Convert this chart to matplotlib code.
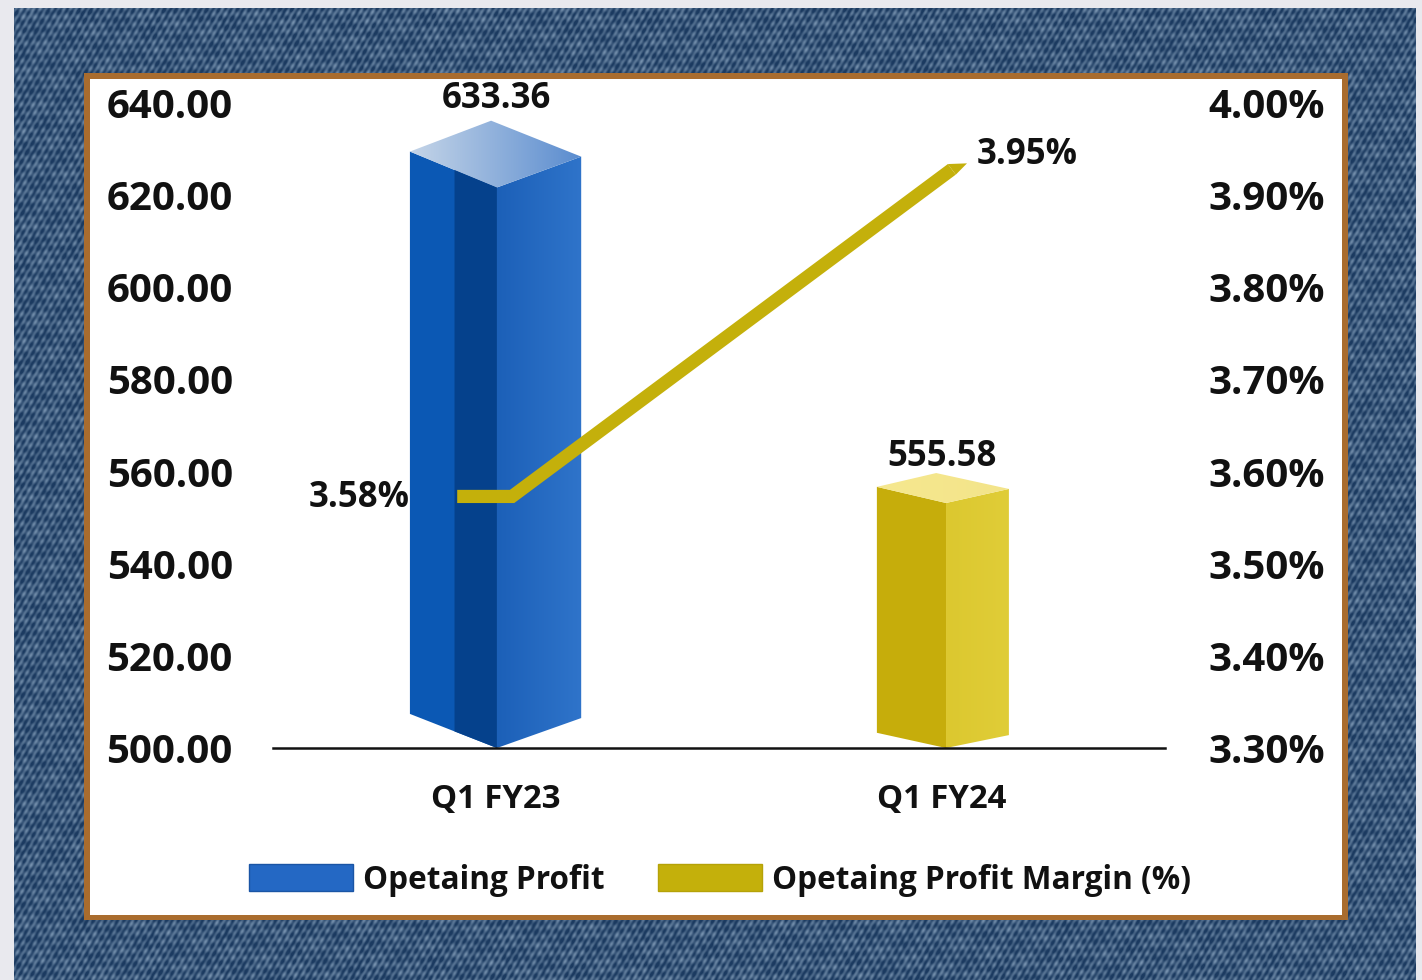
#!/usr/bin/env python3
import numpy as np
import matplotlib
matplotlib.use('Agg')
import matplotlib.pyplot as plt
from matplotlib.colors import LinearSegmentedColormap, to_rgb
from matplotlib.patches import Patch, Polygon, Rectangle

plt.rcParams['font.family'] = ['Open Sans', 'DejaVu Sans']

categories = ['Q1 FY23', 'Q1 FY24']
profit = [633.36, 555.58]
margin = [3.58, 3.95]
profit_ticks = [500, 520, 540, 560, 580, 600, 620, 640]
margin_ticks = [3.3, 3.4, 3.5, 3.6, 3.7, 3.8, 3.9, 4.0]
# where the margin line really runs in the picture
line_x = [-0.087, 0.036, 1.022]
line_y = [3.573, 3.573, 3.928]

W, H = 1422, 980
fig = plt.figure(figsize=(W/100, H/100), dpi=100, facecolor='#e9e9ee')

# Denim background
# ~~~~~~~~~~~~~~~~
bg = fig.add_axes([0, 0, 1, 1], zorder=0)
bg.axis('off')

yy, xx = np.mgrid[0:H, 0:W]
weave = np.sin(2*np.pi*(xx*0.86 + yy*0.5)/5.3)
mottle = np.sin(2*np.pi*(xx*0.5 - yy*0.86)/11.0)*np.sin(2*np.pi*(xx*0.8 + yy*0.6)/17.0)
patchy = np.sin(2*np.pi*(xx*0.31 + yy*0.95)/37.0)*np.sin(2*np.pi*(xx*0.93 - yy*0.37)/53.0)
level = np.clip(0.27 + 0.24*weave + 0.22*mottle + 0.10*patchy, 0, 1)
dark = np.array(to_rgb('#1b3a60'))
light = np.array(to_rgb('#8fa9c3'))
denim = dark + (light - dark)*level[..., None]
bg.imshow(denim, extent=(14, 1416, H, 9), aspect='auto', interpolation='bilinear')
bg.set_xlim(0, W)
bg.set_ylim(H, 0)

bg.add_patch(Rectangle((84, 73), 1264, 847, fc='#a96c2e', ec='none'))
bg.add_patch(Rectangle((90, 79), 1252, 836, fc='white', ec='none'))

# Chart axes
# ~~~~~~~~~~
ax = fig.add_axes([273/W, (H - 748)/H, 892/W, 645/H], zorder=2)
ax.patch.set_alpha(0)
for side in ['top', 'left', 'right']:
    ax.spines[side].set_visible(False)
ax.spines['bottom'].set_color('#111111')
ax.spines['bottom'].set_linewidth(1.8)


def shaded(poly, col_left, col_right):
    ''' Polygon filled by a left to right gradient '''
    xs = [p[0] for p in poly]
    ys = [p[1] for p in poly]
    cmap = LinearSegmentedColormap.from_list('g', [col_left, col_right])
    im = ax.imshow(np.linspace(0, 1, 256)[None, :], cmap=cmap, aspect='auto',
                   extent=(min(xs), max(xs), min(ys), max(ys)), zorder=2)
    im.set_clip_path(Polygon(poly, transform=ax.transData))


def bar3d(x, value, s):
    base = profit_ticks[0]
    left = x - s['half_l']
    right = x + s['half_r']
    front = x + s['front']
    back = x + s['back']

    left_face = [(left, value + s['corner_l']), (front, value + s['near']),
                 (front, base), (left, base + s['foot_l'])]
    right_face = [(front, value + s['near']), (right, value + s['corner_r']),
                  (right, base + s['foot_r']), (front, base)]
    top_face = [(left, value + s['corner_l']), (back, value + s['far']),
                (right, value + s['corner_r']), (front, value + s['near'])]

    ax.add_patch(Polygon(left_face, fc=s['left'], ec='none', zorder=2))
    if s['stripe'] is not None:
        sx = x - s['stripe_w']
        frac = (sx - left)/(front - left)
        near_y = value + s['corner_l'] + frac*(s['near'] - s['corner_l'])
        foot_y = base + s['foot_l']*(1 - frac)
        ax.add_patch(Polygon([(sx, near_y), (front, value + s['near']),
                              (front, base), (sx, foot_y)],
                             fc=s['stripe'], ec='none', zorder=2.1))
    shaded(right_face, s['right'][0], s['right'][1])
    shaded(top_face, s['top'][0], s['top'][1])


blue_style = dict(half_l=0.193, half_r=0.191, front=0.002, back=-0.011,
                  near=-11.7, corner_l=-3.9, corner_r=-5.0, far=2.8,
                  foot_l=7.4, foot_r=6.5, left='#0b58b4',
                  stripe='#05418c', stripe_w=0.093,
                  right=('#1c60b8', '#2f74ca'), top=('#c5d5e8', '#5a8ccf'))
gold_style = dict(half_l=0.146, half_r=0.150, front=0.009, back=-0.013,
                  near=-2.4, corner_l=1.1, corner_r=0.65, far=4.1,
                  foot_l=3.3, foot_r=2.8, left='#c6ad0b',
                  stripe=None, stripe_w=0,
                  right=('#dcc82f', '#e0cd38'), top=('#f6e88f', '#f3e48a'))

xpos = np.arange(len(categories))
bar3d(xpos[0], profit[0], blue_style)
bar3d(xpos[1], profit[1], gold_style)

ax.set_xlim(-0.5, 1.5)
ax.set_ylim(profit_ticks[0], profit_ticks[-1])
ax.set_xticks(xpos, categories)
ax.set_yticks(profit_ticks, [f'{v:.2f}' for v in profit_ticks])
ax.tick_params(axis='y', length=0, pad=29, labelsize=29, labelcolor='#111111')
ax.tick_params(axis='x', length=0, pad=25.5, labelsize=23.7, labelcolor='#111111')
for lab in ax.get_yticklabels() + ax.get_xticklabels():
    lab.set_fontweight('bold')

for x, v in zip(xpos, profit):
    ax.annotate(f'{v:.2f}', (x, v), xytext=(0, 25), textcoords='offset points',
                ha='center', va='center', fontsize=25, fontweight='bold',
                color='#111111', zorder=6)

# Margin line on the second scale
# ~~~~~~~~~~~~~~~~~~~~~~~~~~~~~~~
ax2 = ax.twinx()
ax2.set_zorder(3)
ax2.patch.set_alpha(0)
for side in ax2.spines:
    ax2.spines[side].set_visible(False)
ax2.set_ylim(margin_ticks[0], margin_ticks[-1])
ax2.set_yticks(margin_ticks, [f'{v:.2f}%' for v in margin_ticks])
ax2.tick_params(axis='y', length=0, pad=31, labelsize=29, labelcolor='#111111')
for lab in ax2.get_yticklabels():
    lab.set_fontweight('bold')

ax2.plot(line_x, line_y, color='#c4b00b', lw=9.5, solid_capstyle='butt',
         solid_joinstyle='miter')
# the line runs out to a point at its far end
ax2.fill([line_x[-1] - 0.009, line_x[-1] + 0.034, line_x[-1] + 0.009],
         [line_y[-1] + 0.00575, line_y[-1] + 0.0065, line_y[-1] - 0.00575],
         color='#c4b00b', lw=0)

ax2.annotate(f'{margin[0]:.2f}%', (xpos[0], margin[0]), xytext=(-62, -6),
             textcoords='offset points', ha='right', va='center',
             fontsize=25, fontweight='bold', color='#111111')
ax2.annotate(f'{margin[1]:.2f}%', (xpos[1], margin[1]), xytext=(25, -4),
             textcoords='offset points', ha='left', va='center',
             fontsize=25, fontweight='bold', color='#111111')

# Legend
# ~~~~~~
handles = [Patch(fc='#2468c4', ec='#1a55a5', label='Opetaing Profit'),
           Patch(fc='#c4b00b', ec='#b5a208', label='Opetaing Profit Margin (%)')]
leg = fig.legend(handles=handles, ncol=2, loc='center', frameon=False,
                 bbox_to_anchor=(720/W, (H - 880)/H), fontsize=22.7,
                 handlelength=3.3, handleheight=0.95, handletextpad=0.3,
                 columnspacing=1.7, borderpad=0, labelcolor='#111111')
leg.set_zorder(5)
for t in leg.get_texts():
    t.set_fontweight('bold')

fig.savefig('out.png', dpi=100, facecolor=fig.get_facecolor())
